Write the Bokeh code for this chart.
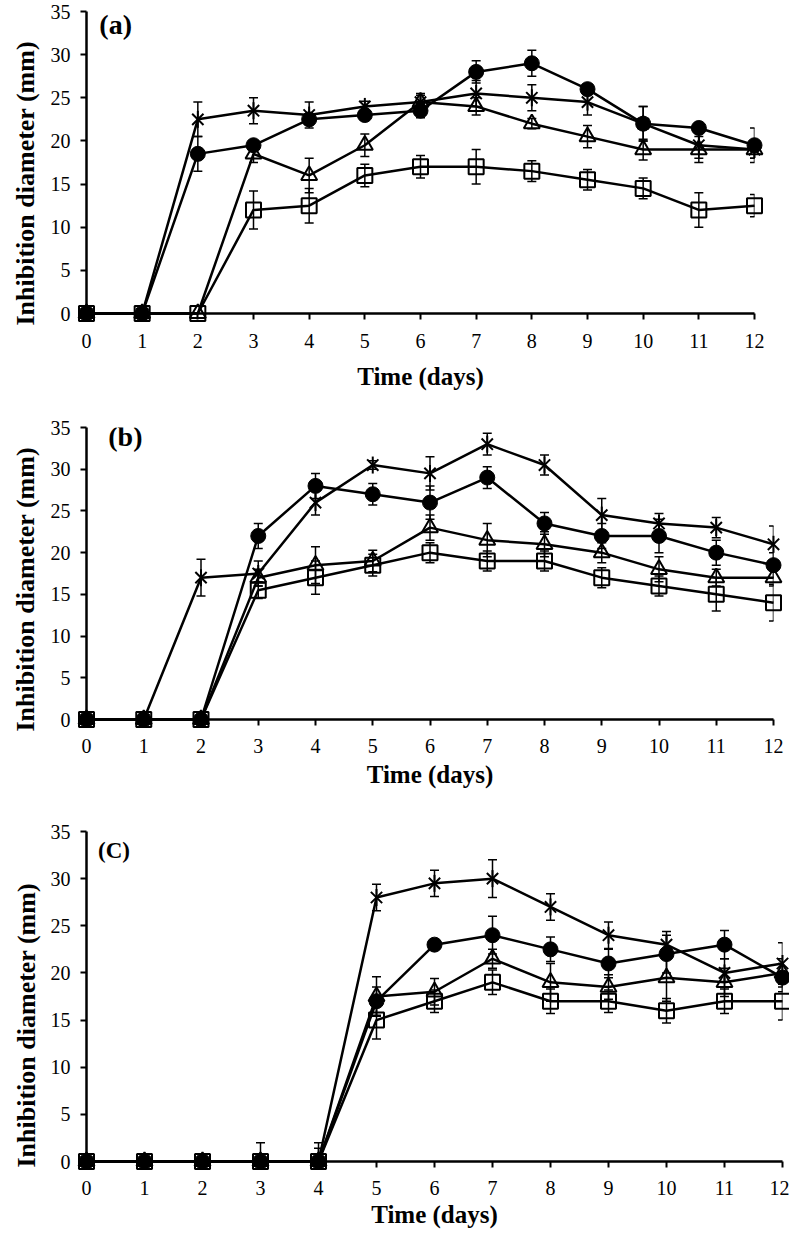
import math
from bokeh.plotting import figure
from bokeh.models import (Whisker, TeeHead, ColumnDataSource, Label, Range1d,
                          FixedTicker, Title)
from bokeh.layouts import column
from bokeh.embed import file_html
from bokeh.resources import INLINE

# ---------------- data ----------------
days = list(range(13))
y_ticks = [0, 5, 10, 15, 20, 25, 30, 35]
x_title = "Time (days)"
y_title = "Inhibition diameter (mm)"

# panel (a)
a_circle = [0, 0, 18.5, 19.5, 22.5, 23, 23.5, 28, 29, 26, 22, 21.5, 19.5]
a_circle_err = [0, 0, 2.0, 0.5, 0.5, 0.5, 0.8, 1.3, 1.5, 0.6, 2.0, 0.6, 2.0]
a_star = [0, 0, 22.5, 23.5, 23, 24, 24.5, 25.5, 25, 24.5, 22, 19.5, 19]
a_star_err = [0, 0, 2.0, 1.5, 1.5, 0.6, 1.0, 1.5, 1.5, 1.5, 2.0, 1.5, 1.0]
a_triangle = [0, 0, 0, 18.5, 16, 19.5, 24.5, 24, 22, 20.5, 19, 19, 19]
a_triangle_err = [0, 0, 0, 1.0, 2.0, 1.3, 0.8, 1.0, 0.6, 1.3, 1.2, 1.5, 1.0]
a_square = [0, 0, 0, 12, 12.5, 16, 17, 17, 16.5, 15.5, 14.5, 12, 12.5]
a_square_err = [0, 0, 0, 2.2, 2.0, 1.3, 1.3, 2.0, 1.2, 1.2, 1.2, 2.0, 1.3]

# panel (b)
b_circle = [0, 0, 0, 22, 28, 27, 26, 29, 23.5, 22, 22, 20, 18.5]
b_circle_err = [0, 0, 0, 1.5, 1.5, 1.3, 2.0, 1.3, 1.3, 1.5, 2.0, 1.5, 1.5]
b_star = [0, 0, 17, 17.5, 26, 30.5, 29.5, 33, 30.5, 24.5, 23.5, 23, 21]
b_star_err = [0, 0, 2.2, 1.5, 1.5, 0.5, 2.0, 1.3, 1.2, 2.0, 1.2, 1.2, 2.2]
b_triangle = [0, 0, 0, 17, 18.5, 19, 23, 21.5, 21, 20, 18, 17, 17]
b_triangle_err = [0, 0, 0, 1.0, 2.2, 1.3, 1.5, 2.0, 1.5, 1.2, 1.5, 1.0, 1.0]
b_square = [0, 0, 0, 15.5, 17, 18.5, 20, 19, 19, 17, 16, 15, 14]
b_square_err = [0, 0, 0, 1.0, 2.0, 1.3, 1.2, 1.2, 1.2, 1.2, 1.2, 2.0, 2.2]

# panel (c)
c_circle = [0, 0, 0, 0, 0, 17, 23, 24, 22.5, 21, 22, 23, 19.5]
c_circle_err = [0, 0, 0, 0, 0, 1.5, 0.5, 2.0, 1.3, 1.5, 2.0, 1.5, 1.5]
c_star = [0, 0, 0, 0, 0, 28, 29.5, 30, 27, 24, 23, 20, 21]
c_star_err = [0, 0, 0, 0, 0, 1.4, 1.4, 2.0, 1.4, 1.4, 1.4, 1.5, 2.2]
c_triangle = [0, 0, 0, 0, 0, 17.5, 18, 21.5, 19, 18.5, 19.5, 19, 20]
c_triangle_err = [0, 0, 0, 0, 1.4, 2.1, 1.4, 1.0, 2.0, 1.3, 2.5, 1.5, 1.5]
c_square = [0, 0, 0, 0, 0, 15, 17, 19, 17, 17, 16, 17, 17]
c_square_err = [0, 0, 0, 2.0, 2.0, 2.0, 1.2, 1.3, 1.3, 1.2, 1.3, 1.3, 2.0]

FONT = "Liberation Serif"


def add_errors(p, xs, ys, es):
    bx, up, lo = [], [], []
    for x, y, e in zip(xs, ys, es):
        if e > 0:
            bx.append(x)
            up.append(y + e)
            lo.append(max(0, y - e))
    src = ColumnDataSource(dict(x=bx, upper=up, lower=lo))
    w = Whisker(source=src, base="x", upper="upper", lower="lower",
                line_color="black", line_width=1.5, level="overlay",
                upper_head=TeeHead(size=9, line_color="black", line_width=1.5),
                lower_head=TeeHead(size=9, line_color="black", line_width=1.5))
    p.add_layout(w)


def make_panel(tag, tag_pos, tag_size, data, fw, fh, bl, bt, bb, br,
               tick_standoff, xtitle_standoff, ytitle_standoff, ytitle_offset):
    sq, sq_e, tr, tr_e, ci, ci_e, st, st_e = data
    p = figure(frame_width=fw, frame_height=fh,
               x_range=Range1d(0, 12), y_range=Range1d(0, 35),
               output_backend="svg", toolbar_location=None,
               min_border_left=bl, min_border_top=bt,
               min_border_bottom=bb, min_border_right=br)
    p.outline_line_color = None
    p.grid.visible = False
    p.background_fill_color = "white"
    p.border_fill_color = "white"

    p.xaxis.ticker = FixedTicker(ticks=days)
    p.yaxis.ticker = FixedTicker(ticks=y_ticks)
    for ax in (p.xaxis[0], p.yaxis[0]):
        ax.axis_line_width = 2.5
        ax.axis_line_color = "black"
        ax.major_tick_line_width = 2
        ax.major_tick_line_color = "black"
        ax.major_tick_out = 6
        ax.major_tick_in = 0
        ax.minor_tick_out = 0
        ax.minor_tick_in = 0
        ax.major_label_text_font = FONT
        ax.major_label_text_font_size = "20px"
        ax.major_label_text_color = "black"
    p.xaxis.major_label_standoff = tick_standoff
    p.yaxis.major_label_standoff = 10

    # open square
    p.line(days, sq, line_color="black", line_width=2.5, level="overlay")
    p.scatter(days, sq, marker="square", size=15, fill_color=None,
              line_color="black", line_width=2, level="overlay")
    # open triangle
    p.line(days, tr, line_color="black", line_width=2.5, level="overlay")
    p.scatter(days, tr, marker="triangle", size=16, fill_color=None,
              line_color="black", line_width=2, level="overlay")
    # filled circle
    p.line(days, ci, line_color="black", line_width=2.5, level="overlay")
    p.scatter(days, ci, marker="circle", size=15, fill_color="black",
              line_color="black", line_width=1, level="overlay")
    # star (x with vertical bar)
    p.line(days, st, line_color="black", line_width=2.5, level="overlay")
    p.scatter(days, st, marker="x", size=16, line_color="black",
              line_width=2, level="overlay")
    p.scatter(days, st, marker="dash", angle=math.pi / 2, size=17,
              line_color="black", line_width=2, level="overlay")

    for ys, es in ((sq, sq_e), (tr, tr_e), (ci, ci_e), (st, st_e)):
        add_errors(p, days, ys, es)

    # panel tag
    p.add_layout(Label(x=tag_pos[0], y=tag_pos[1], text=tag, text_font=FONT,
                       text_font_style="bold", text_font_size=tag_size,
                       text_baseline="middle", text_align="left",
                       text_color="black", level="overlay"))
    # axis titles (side-panel titles, outside the axes)
    p.add_layout(Title(text=x_title, align="center", text_font=FONT,
                       text_font_style="bold", text_font_size="25px",
                       text_color="black", standoff=xtitle_standoff), "below")
    p.add_layout(Title(text=y_title, align="left", offset=ytitle_offset,
                       text_font=FONT, text_font_style="bold",
                       text_font_size="26px", text_color="black",
                       standoff=ytitle_standoff), "left")
    return p


pa = make_panel("(a)", (0.23, 33.5), "28px",
                (a_square, a_square_err, a_triangle, a_triangle_err,
                 a_circle, a_circle_err, a_star, a_star_err),
                fw=668, fh=302, bl=84, bt=11, bb=94, br=20,
                tick_standoff=14, xtitle_standoff=21, ytitle_standoff=16,
                ytitle_offset=-12)
pb = make_panel("(b)", (0.38, 33.9), "28px",
                (b_square, b_square_err, b_triangle, b_triangle_err,
                 b_circle, b_circle_err, b_star, b_star_err),
                fw=687, fh=292, bl=84, bt=20, bb=88, br=12,
                tick_standoff=13, xtitle_standoff=7, ytitle_standoff=16,
                ytitle_offset=-12)
pc = make_panel("(C)", (0.2, 33.0), "23px",
                (c_square, c_square_err, c_triangle, c_triangle_err,
                 c_circle, c_circle_err, c_star, c_star_err),
                fw=696, fh=330, bl=79, bt=24, bb=73, br=10,
                tick_standoff=13, xtitle_standoff=3, ytitle_standoff=13,
                ytitle_offset=-6)

layout = column(pa, pb, pc, spacing=0)
open("out.html", "w").write(file_html(layout, INLINE))
